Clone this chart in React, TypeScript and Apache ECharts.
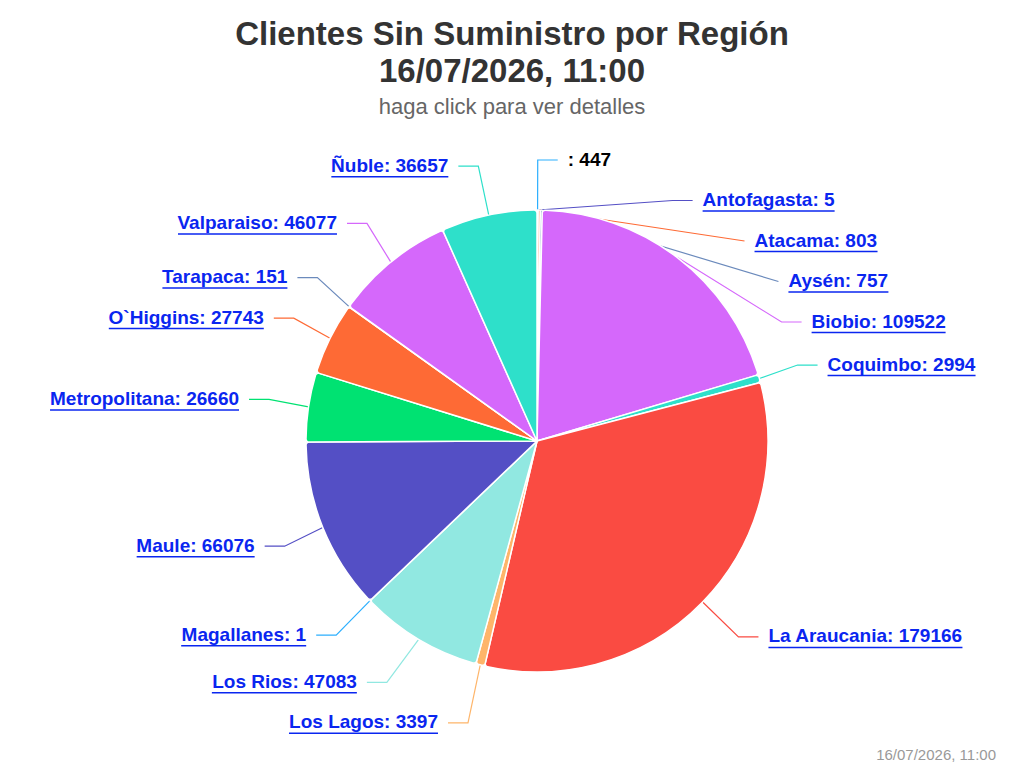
import React, { useEffect, useRef } from "react";
import * as echarts from "echarts";

const regionNames = ["", "Antofagasta", "Atacama", "Aysén", "Biobio", "Coquimbo", "La Araucania", "Los Lagos", "Los Rios", "Magallanes", "Maule", "Metropolitana", "O`Higgins", "Tarapaca", "Valparaiso", "Ñuble"];
const clientValues = [447, 5, 803, 757, 109522, 2994, 179166, 3397, 47083, 1, 66076, 26660, 27743, 151, 46077, 36657];
const sliceColors = ["#2caffe", "#544fc5", "#fe6a35", "#6b8abc", "#d568fb", "#2ee0ca", "#fa4b42", "#feb56a", "#91e8e1", "#2caffe", "#544fc5", "#00e272", "#fe6a35", "#6b8abc", "#d568fb", "#2ee0ca"];

const titleText = "Clientes Sin Suministro por Región\n16/07/2026, 11:00";
const subtitleText = "haga click para ver detalles";
const creditText = "16/07/2026, 11:00";

const FONT = '"Liberation Sans", Arial, Helvetica, sans-serif';
const LINK = "#0a26f0";
const LABEL_SIZE = 19;

function measure(text: string): number {
  const c = document.createElement("canvas");
  const ctx = c.getContext("2d")!;
  ctx.font = `bold ${LABEL_SIZE}px ${FONT}`;
  return ctx.measureText(text).width;
}

export default function App() {
  const ref = useRef<HTMLDivElement>(null);
  useEffect(() => {
    if (!ref.current) return;
    const chart = echarts.init(ref.current, undefined, { renderer: "svg" });
    const data = regionNames.map((n, i) => {
      const txt = `${n}: ${clientValues[i]}`;
      const isLink = n !== "";
      const col = isLink ? LINK : "#000000";
      return {
        name: n,
        value: clientValues[i],
        itemStyle: { color: sliceColors[i] },
        label: {
          formatter: `{p|}\n{t|${txt}}\n{u|}\n{p|}`,
          rich: {
            p: { height: 3.5, lineHeight: 3.5 },
            t: { fontFamily: FONT, fontSize: LABEL_SIZE, fontWeight: "bold", color: col, lineHeight: 21 },
            u: { width: Math.round(measure(txt)), height: 1.5, lineHeight: 2, backgroundColor: isLink ? col : "transparent" },
          },
        },
      };
    });
    chart.setOption({
      animation: false,
      backgroundColor: "#ffffff",
      title: [
        {
          text: titleText,
          left: "center",
          top: 10,
          textStyle: { fontFamily: FONT, fontSize: 33, fontWeight: "bold", color: "#333333", lineHeight: 37 },
        },
        {
          text: subtitleText,
          left: "center",
          top: 90,
          textStyle: { fontFamily: FONT, fontSize: 22, fontWeight: "normal", color: "#666666" },
        },
        {
          text: creditText,
          right: 23,
          top: 742,
          textStyle: { fontFamily: FONT, fontSize: 15, fontWeight: "normal", color: "#999999" },
        },
      ],
      series: [
        {
          type: "pie",
          center: [537, 441],
          radius: 231,
          startAngle: 90,
          clockwise: true,
          avoidLabelOverlap: true,
          minShowLabelAngle: 0,
          itemStyle: { borderColor: "#ffffff", borderWidth: 1.5, borderRadius: 3 },
          label: { show: true, position: "outside", fontFamily: FONT, distanceToLabelLine: 10 },
          labelLine: { show: true, length: 50, length2: 20, lineStyle: { width: 1.2 } },
          emphasis: { disabled: true },
          data,
        },
      ],
    });
    return () => chart.dispose();
  }, []);
  return <div ref={ref} style={{ position: "absolute", left: 0, top: 0, width: 1024, height: 768 }} />;
}
